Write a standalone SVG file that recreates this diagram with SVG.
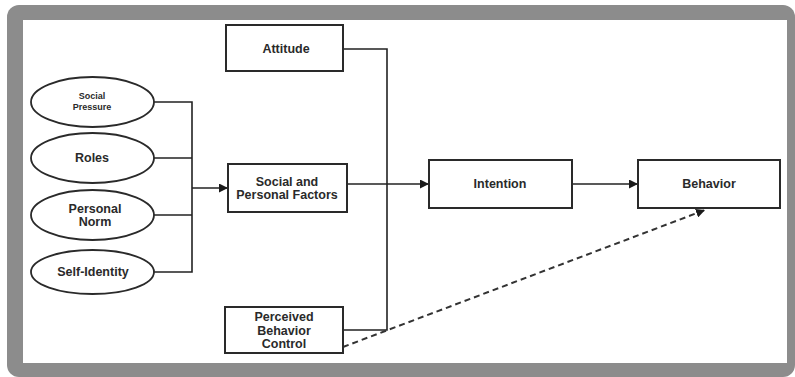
<svg xmlns="http://www.w3.org/2000/svg" width="795" height="377" viewBox="0 0 795 377">
  <defs>
    <marker id="arrow" viewBox="0 0 10 10" refX="10" refY="5" markerWidth="9" markerHeight="9" markerUnits="userSpaceOnUse" orient="auto">
      <path d="M0,0 L10,5 L0,10 z" fill="#1a1a1a"/>
    </marker>
    <style>
      .box { fill: #ffffff; stroke: #2a2a2a; stroke-width: 2; }
      .oval { fill: #ffffff; stroke: #2a2a2a; stroke-width: 1.8; }
      .link { fill: none; stroke: #222; stroke-width: 1.6; }
      .dash { fill: none; stroke: #333; stroke-width: 2; stroke-dasharray: 6 4; }
      text { font-family: "Liberation Sans", Arial, sans-serif; font-weight: bold; fill: #2a2a2a; text-anchor: middle; }
      .lg { font-size: 12.5px; }
      .sm { font-size: 9px; }
    </style>
  </defs>

  <!-- frame -->
  <rect x="0" y="0" width="795" height="377" fill="#ffffff"/>
  <rect x="7" y="5" width="788" height="372" rx="12" fill="#8c8c8c"/>
  <rect x="23" y="20" width="764" height="343" fill="#ffffff"/>

  <g id="connectors">
    <!-- antecedents into Social and Personal Factors -->
    <polyline class="link" points="154,102 192,102 192,272 154,272"/>
    <line class="link" x1="154" y1="158" x2="192" y2="158"/>
    <line class="link" x1="154" y1="215" x2="192" y2="215"/>
    <line class="link" x1="192" y1="188" x2="228" y2="188" marker-end="url(#arrow)"/>
    <!-- attitude / perceived control bus -->
    <polyline class="link" points="343,49 387,49 387,330 343,330"/>
    <line class="link" x1="347" y1="184" x2="429" y2="184" marker-end="url(#arrow)"/>
    <line class="link" x1="572" y1="184" x2="638" y2="184" marker-end="url(#arrow)"/>
    <line class="dash" x1="343" y1="347" x2="705" y2="210" marker-end="url(#arrow)"/>
  </g>

  <g id="social-pressure">
    <ellipse class="oval" cx="92.5" cy="102" rx="61.5" ry="25"/>
    <text class="sm" x="92" y="99">Social</text>
    <text class="sm" x="92" y="110">Pressure</text>
  </g>
  <g id="roles">
    <ellipse class="oval" cx="92.5" cy="158" rx="61.5" ry="25"/>
    <text class="lg" x="92" y="162">Roles</text>
  </g>
  <g id="personal-norm">
    <ellipse class="oval" cx="92.5" cy="215" rx="61.5" ry="25"/>
    <text class="lg" x="95" y="213">Personal</text>
    <text class="lg" x="95" y="226">Norm</text>
  </g>
  <g id="self-identity">
    <ellipse class="oval" cx="92.5" cy="272" rx="61.5" ry="22"/>
    <text class="lg" x="93" y="276">Self-Identity</text>
  </g>

  <g id="attitude">
    <rect class="box" x="226" y="25" width="117" height="46"/>
    <text class="lg" x="286" y="53">Attitude</text>
  </g>
  <g id="social-personal-factors">
    <rect class="box" x="228" y="164" width="119" height="48"/>
    <text class="lg" x="287" y="186">Social and</text>
    <text class="lg" x="287" y="199">Personal Factors</text>
  </g>
  <g id="perceived-behavior-control">
    <rect class="box" x="225" y="307" width="118" height="46"/>
    <text class="lg" x="284" y="321">Perceived</text>
    <text class="lg" x="284" y="335">Behavior</text>
    <text class="lg" x="284" y="348">Control</text>
  </g>
  <g id="intention">
    <rect class="box" x="429" y="160" width="143" height="48"/>
    <text class="lg" x="500" y="188">Intention</text>
  </g>
  <g id="behavior">
    <rect class="box" x="638" y="160" width="142" height="48"/>
    <text class="lg" x="709" y="188">Behavior</text>
  </g>
</svg>
